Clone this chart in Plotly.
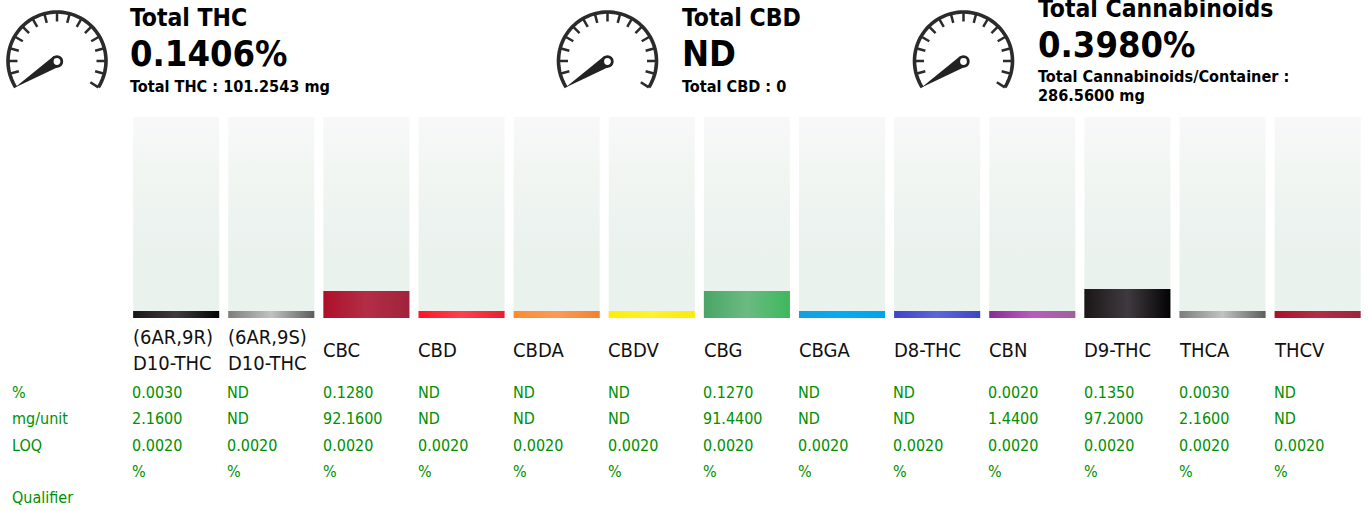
import json
import numpy as np
import plotly.graph_objects as go

W, H = 1368, 511

# ---- data ----
categories = ["(6AR,9R)<br>D10-THC", "(6AR,9S)<br>D10-THC", "CBC", "CBD", "CBDA", "CBDV", "CBG",
              "CBGA", "D8-THC", "CBN", "D9-THC", "THCA", "THCV"]
bar_levels = [0.035, 0.035, 0.134, 0.035, 0.035, 0.035, 0.134, 0.035, 0.035, 0.035, 0.144, 0.035, 0.035]
track_levels = [1] * 13
row_labels = ["%", "mg/unit", "LOQ", "", "Qualifier"]
pct_values = ["0.0030", "ND", "0.1280", "ND", "ND", "ND", "0.1270", "ND", "ND", "0.0020", "0.1350", "0.0030", "ND"]
mg_values = ["2.1600", "ND", "92.1600", "ND", "ND", "ND", "91.4400", "ND", "ND", "1.4400", "97.2000", "2.1600", "ND"]
loq_values = ["0.0020"] * 13
unit_values = ["%"] * 13
summary_titles = ["Total THC", "Total CBD", "Total Cannabinoids"]
summary_values = ["0.1406%", "ND", "0.3980%"]
summary_notes = [["Total THC : 101.2543 mg"], ["Total CBD : 0"], ["Total Cannabinoids/Container :", "286.5600 mg"]]

# ---- colours ----
BLACK = ["#1a1616", "#403a40", "#030303"]
GREY = ["#7d7d7d", "#c2c2c2", "#5c5c5c"]
RED = ["#ae1028", "#b32e45", "#a0233a"]
bar_gradients = [BLACK, GREY, RED,
                 ["#ff1424", "#ff4050", "#ea1f2e"],
                 ["#ff8a30", "#ff9a55", "#f58030"],
                 ["#ffee00", "#fff230", "#ffea00"],
                 ["#4aa566", "#6cba82", "#3db85c"],
                 ["#13a0e0", "#05aaf5", "#00a4ee"],
                 ["#3c45c8", "#5a66dc", "#3c46c8"],
                 ["#8c2a90", "#b85cc0", "#a0609c"],
                 BLACK, GREY, RED]
track_gradient = ["#f8f8f8", "#f2f6f3", "#edf3f0", "#eaf2ed", "#e9f2ed"]
GREEN = "#009000"
INK = "#000000"
GAUGE = "#2b2b2b"
FONT = "DejaVu Sans Condensed, DejaVu Sans"


def px(x):
    return x / W


def py(y):
    return 1 - y / H


fig = go.Figure()
fig.add_trace(go.Bar(x=categories, y=track_levels, name="track", marker=dict(color="#f0f4f1", line=dict(width=0)),
                     hoverinfo="skip"))
fig.add_trace(go.Bar(x=categories, y=bar_levels, name="level",
                     marker=dict(color=[g[1] for g in bar_gradients], line=dict(width=0)),
                     hoverinfo="skip"))

ann = []


def text(x, y, s, size, color=INK, bold=False, **kw):
    ann.append(dict(x=x, y=y, text=f"<b>{s}</b>" if bold else s, showarrow=False, xanchor="left", yanchor="middle",
                    align="left", font=dict(family=FONT, size=size, color=color), borderpad=0, **kw))


# category labels and table
for name in categories:
    text(name, py(350), name, 20, color="#111111", xref="x", yref="paper", xshift=-44.4)
rows = [pct_values, mg_values, loq_values, unit_values]
row_y = [392, 418, 445, 471, 497]
for lab, y in zip(row_labels, row_y):
    if lab:
        text(px(11), py(y), lab, 16, color=GREEN, xref="paper", yref="paper")
for vals, y in zip(rows, row_y):
    for name, v in zip(categories, vals):
        text(name, py(y), v, 16, color=GREEN, xref="x", yref="paper", xshift=-44.8)

# summary blocks
block_x = [129.3, 681.3, 1037]
title_y = [17.5, 17.5, 9]
value_y = [53.5, 53.5, 44]
note_y = [[86], [86], [76, 95]]
for i in range(3):
    text(px(block_x[i]), py(title_y[i]), summary_titles[i], 24.5, bold=True, xref="paper", yref="paper")
    text(px(block_x[i]), py(value_y[i]), summary_values[i], 36, bold=True, xref="paper", yref="paper")
    for line, y in zip(summary_notes[i], note_y[i]):
        text(px(block_x[i]), py(y), line, 16.15, bold=True, xref="paper", yref="paper")


# gauges (decoration)
def path_from(points, close=False):
    d = "M" + " L".join(f"{px(a):.5f},{py(b):.5f}" for a, b in points)
    return d + (" Z" if close else "")


shapes = []
for cx in [57, 607.5, 963.5]:
    cy = 61
    ang = np.radians(np.linspace(-32.5, 212.5, 90))
    arc = [(cx + 49 * np.cos(a), cy - 49 * np.sin(a)) for a in ang]
    shapes.append(dict(type="path", xref="paper", yref="paper", path=path_from(arc),
                       line=dict(color=GAUGE, width=3.6)))
    for deg in list(range(-15, 196, 15)) + [-32.5]:
        a = np.radians(deg)
        tick = [(cx + 39.5 * np.cos(a), cy - 39.5 * np.sin(a)), (cx + 49 * np.cos(a), cy - 49 * np.sin(a))]
        shapes.append(dict(type="path", xref="paper", yref="paper", path=path_from(tick),
                           line=dict(color=GAUGE, width=2.5)))
    tip = (cx - 42, cy + 26.5)
    na = np.arctan2(tip[1] - cy, tip[0] - cx)
    needle = [tip, (cx + 6 * np.cos(na + np.pi / 2), cy + 6 * np.sin(na + np.pi / 2)),
              (cx + 6 * np.cos(na - np.pi / 2), cy + 6 * np.sin(na - np.pi / 2))]
    shapes.append(dict(type="path", xref="paper", yref="paper", path=path_from(needle, True),
                       fillcolor="#222222", line=dict(width=0)))
    shapes.append(dict(type="circle", xref="paper", yref="paper", x0=px(cx - 4.8), x1=px(cx + 4.8),
                       y0=py(cy + 5.3), y1=py(cy - 4.3), fillcolor="#ffffff", line=dict(color="#222222", width=2.8)))

fig.update_layout(
    width=W, height=H, margin=dict(l=0, r=0, t=0, b=0), paper_bgcolor="#ffffff", plot_bgcolor="#ffffff",
    barmode="overlay", bargap=0.095, showlegend=False, hovermode=False,
    annotations=ann, shapes=shapes,
    xaxis=dict(domain=[px(128.6), px(1365.2)], range=[-0.5, 12.5], type="category", categoryorder="array",
               categoryarray=categories, showticklabels=False, showgrid=False, zeroline=False, ticks=""),
    yaxis=dict(domain=[py(318), py(117)], range=[0, 1], showticklabels=False, showgrid=False, zeroline=False,
               ticks=""),
)

post = """
document.body.style.margin='0';document.documentElement.style.overflow='hidden';
var gd=document.getElementById('{plot_id}');
var stops=%s;
var trackStops=%s;
var NS='http://www.w3.org/2000/svg';
var svg=gd.querySelector('svg.main-svg');
var defs=svg.querySelector('defs')||svg.insertBefore(document.createElementNS(NS,'defs'),svg.firstChild);
function grad(id,cols,vertical){
  var g=document.createElementNS(NS,'linearGradient');g.setAttribute('id',id);
  g.setAttribute('x1','0');g.setAttribute('y1','0');
  g.setAttribute('x2',vertical?'0':'1');g.setAttribute('y2',vertical?'1':'0');
  cols.forEach(function(c,i){var s=document.createElementNS(NS,'stop');
    s.setAttribute('offset',String(i/(cols.length-1)));s.setAttribute('stop-color',c);g.appendChild(s);});
  defs.appendChild(g);return 'url(#'+id+')';
}
var traces=gd.querySelectorAll('.barlayer .trace');
var tf=grad('trackfill',trackStops,true);
traces[0].querySelectorAll('.point path').forEach(function(p){p.style.fill=tf;});
traces[1].querySelectorAll('.point path').forEach(function(p,i){p.style.fill=grad('barfill'+i,stops[i],false);});
""" % (json.dumps(bar_gradients), json.dumps(track_gradient))

fig.write_html("out.html", config=dict(displayModeBar=False, staticPlot=True), post_script=post)
